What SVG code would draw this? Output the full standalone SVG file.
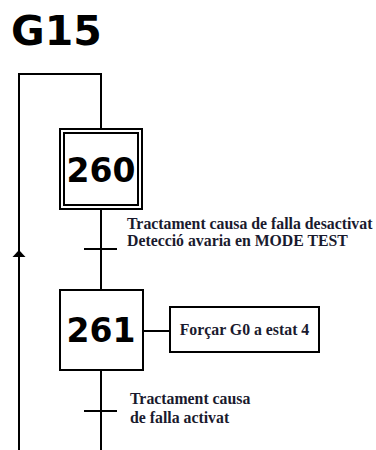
<svg xmlns="http://www.w3.org/2000/svg" width="376" height="450" viewBox="0 0 376 450">
<style>
.ln{stroke:#000;stroke-width:2;fill:none}
.box{stroke:#000;stroke-width:2;fill:#fff}
.num{font-family:"DejaVu Sans",Verdana,sans-serif;font-weight:bold;font-size:33px;text-anchor:middle;fill:#000}
.lbl{font-family:"Liberation Serif","Times New Roman",serif;font-weight:bold;font-size:15.8px;fill:#1a1a2e}
</style>
<rect width="376" height="450" fill="#fff"/>
<text x="11" y="45" font-family="DejaVu Sans,Verdana,sans-serif" font-weight="bold" font-size="41" fill="#000">G15</text>
<g id="connectors">
<polyline class="ln" points="101,128 101,74 19,74 19,450"/>
<polygon points="19,250 12.5,257 25.5,257" fill="#000"/>
<line class="ln" x1="101" y1="209" x2="101" y2="290"/>
<line class="ln" x1="84" y1="249" x2="117" y2="249"/>
<line class="ln" x1="143" y1="331" x2="170" y2="331"/>
<line class="ln" x1="101" y1="370" x2="101" y2="450"/>
<line class="ln" x1="84" y1="411" x2="117" y2="411"/>
</g>
<g id="step260">
<rect class="box" x="60" y="129" width="82" height="80"/>
<rect class="ln" x="64" y="133" width="74" height="72"/>
<text class="num" x="101" y="182">260</text>
</g>
<g id="t1">
<text class="lbl" x="127" y="229">Tractament causa de falla desactivat</text>
<text class="lbl" x="127" y="246">Detecció avaria en MODE TEST</text>
</g>
<g id="step261">
<rect class="box" x="60" y="290" width="83" height="80"/>
<text class="num" x="101" y="342">261</text>
</g>
<g id="action261">
<rect class="box" x="170" y="307" width="149" height="45"/>
<text class="lbl" x="244.5" y="335" text-anchor="middle">Forçar G0 a estat 4</text>
</g>
<g id="t2">
<text class="lbl" x="130" y="404">Tractament causa</text>
<text class="lbl" x="130" y="423">de falla activat</text>
</g>
</svg>
